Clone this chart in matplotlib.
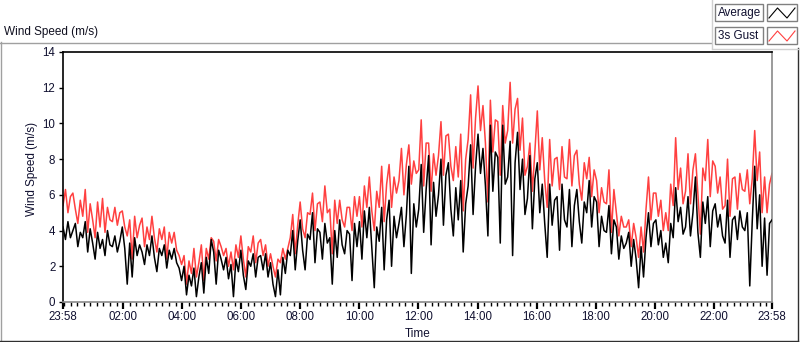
import numpy as np
import matplotlib
matplotlib.use('Agg')
import matplotlib.pyplot as plt
from matplotlib.patches import Rectangle

# ---------------- data (m/s), 24 h from 23:58 to 23:58 ----------------
avg = [
    4.2, 3.5, 4.5, 3.6,  4.0, 4.4, 3.1, 3.9,  3.6, 4.5, 2.8, 4.1,  3.3, 2.4, 3.9, 3.0,
    3.5, 2.6, 4.0, 3.2,  3.1, 3.7, 2.8, 3.4,  4.2, 3.0, 1.0, 3.3,  1.4, 3.6, 2.6, 3.2,
    2.8, 2.1, 3.2, 2.6,  3.7, 2.5, 1.7, 3.0,  2.6, 3.2, 1.9, 2.9,  2.4, 3.0, 2.2, 1.9,
    1.2, 2.0, 0.4, 1.5,  0.9, 1.9, 0.3, 1.4,  2.2, 0.5, 2.5, 1.6,  3.5, 2.8, 1.0, 2.9,
    2.4, 1.8, 2.5, 1.3,  2.1, 0.3, 2.4, 1.7,  2.9, 1.5, 0.7, 2.3,  2.0, 2.7, 1.4, 2.5,
    2.6, 1.8, 2.7, 1.4,  2.2, 1.0, 0.3, 1.8,  0.4, 2.5, 1.6, 2.9,  2.6, 4.0, 1.8, 3.4,
    4.6, 2.9, 1.8, 3.8,  3.5, 5.0, 2.2, 4.1,  3.9, 2.4, 4.4, 3.3,  3.6, 1.0, 4.0, 2.5,
    4.6, 3.2, 2.7, 4.0,  3.8, 1.2, 4.4, 3.1,  4.5, 2.4, 5.1, 3.6,  5.3, 3.0, 0.8, 4.2,
    3.4, 5.3, 1.8, 4.6,  5.7, 2.0, 4.8, 3.6,  4.4, 5.3, 3.1, 4.9,  7.6, 1.6, 5.5, 4.2,
    5.2, 7.7, 3.9, 6.3,  8.2, 3.2, 6.7, 4.8,  6.0, 8.0, 4.3, 7.1,  7.8, 5.2, 3.7, 6.4,
    4.6, 6.8, 2.8, 5.5,  6.5, 8.8, 4.9, 7.6,  9.4, 7.2, 8.6, 6.5,  3.7, 9.9, 6.2, 8.4,
    8.1, 3.3, 9.9, 6.6,  7.0, 9.0, 2.6, 7.8,  9.5, 6.3, 8.0, 4.9,  5.8, 8.2, 4.1, 6.9,
    7.8, 5.0, 6.6, 4.4,  2.5, 6.6, 4.3, 5.7,  5.9, 2.9, 6.6, 4.6,  4.2, 6.3, 3.1, 5.4,
    6.3, 4.5, 3.3, 5.6,  5.0, 6.8, 4.2, 5.9,  5.6, 3.1, 4.8, 4.0,  3.9, 5.4, 2.7, 4.6,
    4.2, 2.4, 3.7, 3.0,  3.3, 3.9, 2.0, 3.5,  2.4, 0.8, 3.1, 1.4,  3.6, 5.0, 3.1, 4.4,
    4.6, 3.2, 4.0, 2.5,  3.3, 2.2, 4.4, 3.6,  6.4, 4.5, 5.3, 3.8,  4.2, 5.9, 3.7, 5.0,
    7.0, 3.9, 2.5, 5.6,  4.4, 5.9, 3.1, 5.1,  5.5, 4.2, 4.9, 3.7,  3.3, 5.7, 2.5, 4.6,
    4.8, 3.5, 5.1, 4.2,  4.0, 5.0, 0.9, 4.5,  7.6, 4.1, 6.0, 2.0,  4.7, 1.5, 4.4, 4.6,
]
gust = [
    5.4, 6.3, 5.0, 5.9,  6.1, 5.2, 4.4, 5.7,  4.8, 6.3, 3.9, 5.5,  4.6, 3.6, 5.6, 4.2,
    5.8, 3.9, 5.3, 4.6,  4.5, 5.3, 4.3, 5.0,  5.1, 4.2, 3.7, 4.6,  2.4, 4.8, 3.6, 4.3,
    4.7, 3.1, 4.2, 3.5,  4.8, 3.6, 2.8, 4.1,  3.5, 4.2, 2.4, 3.9,  3.3, 3.9, 2.9, 2.6,
    2.1, 2.6, 1.0, 2.3,  1.6, 3.0, 1.4, 2.2,  3.2, 1.2, 3.0, 2.4,  3.6, 3.4, 2.3, 3.5,
    3.1, 2.6, 3.0, 2.0,  2.8, 1.8, 3.2, 2.5,  3.7, 2.4, 1.4, 3.1,  2.8, 3.7, 2.2, 3.3,
    3.5, 2.6, 3.2, 2.0,  2.7, 2.0, 1.4, 2.4,  2.2, 3.0, 2.4, 3.0,  3.6, 4.9, 2.7, 4.3,
    5.6, 4.1, 3.6, 5.0,  4.9, 6.1, 4.0, 5.5,  5.6, 4.5, 6.5, 5.0,  5.2, 2.7, 5.7, 4.4,
    5.7, 4.6, 4.2, 5.3,  5.3, 4.0, 5.9, 4.8,  5.9, 4.2, 6.5, 5.3,  7.0, 5.1, 4.0, 6.2,
    5.3, 7.6, 4.5, 6.6,  7.7, 5.3, 7.0, 6.1,  6.8, 8.6, 6.0, 7.7,  8.8, 6.6, 7.9, 7.2,
    7.4, 10.2, 6.5, 8.9, 8.9, 6.2, 8.3, 7.1,  8.2, 10.1, 7.1, 9.3, 9.4, 7.6, 6.8, 8.7,
    7.0, 9.4, 5.1, 8.0,  9.1, 11.6, 7.5, 10.3, 12.1, 9.6, 11.0, 8.9, 5.6, 11.3, 8.4, 10.2,
    10.1, 7.1, 11.0, 8.9, 9.6, 12.3, 8.9, 10.8, 11.4, 8.5, 10.3, 7.1, 7.6, 8.9, 6.2, 8.4,
    10.7, 7.4, 9.2, 6.8, 5.3, 9.1, 6.5, 8.0,  8.1, 6.3, 8.7, 7.0,  6.9, 9.1, 6.5, 8.2,
    8.5, 6.6, 5.7, 7.8,  6.9, 8.1, 5.9, 7.4,  6.8, 5.0, 6.4, 5.6,  5.5, 7.4, 3.9, 6.3,
    5.0, 3.7, 4.8, 4.2,  4.2, 4.6, 3.1, 4.4,  3.6, 2.5, 4.2, 2.8,  5.2, 7.0, 4.6, 6.1,
    6.1, 4.8, 5.7, 4.0,  5.0, 4.0, 6.6, 5.4,  9.2, 6.3, 7.5, 5.5,  6.2, 8.3, 5.5, 7.4,
    8.3, 6.0, 3.8, 7.5,  6.8, 9.1, 5.9, 7.9,  7.6, 6.1, 7.0, 5.2,  5.4, 8.0, 4.8, 6.9,
    7.0, 5.2, 7.2, 6.3,  6.2, 7.4, 5.5, 6.9,  9.6, 6.8, 8.4, 5.0,  7.0, 5.0, 6.6, 7.2,
]
x_tick_labels = ['23:58', '02:00', '04:00', '06:00', '08:00', '10:00', '12:00',
                 '14:00', '16:00', '18:00', '20:00', '22:00', '23:58']
y_ticks = [0, 2, 4, 6, 8, 10, 12, 14]
series_names = ['Average', '3s Gust']
series_colors = ['black', '#ff4040']

# ---------------- helpers ----------------
START = 23 * 60 + 58
SPAN = 24 * 60


def label_to_min(lbl, last):
    h, m = map(int, lbl.split(':'))
    return SPAN if last else (h * 60 + m - START) % SPAN


major_pos = [label_to_min(l, i == len(x_tick_labels) - 1) for i, l in enumerate(x_tick_labels)]
minor_step = (major_pos[2] - major_pos[1]) / 9.0
minor_pos = np.arange(major_pos[1] % minor_step, SPAN, minor_step)

plt.rcParams['font.family'] = ['Liberation Sans', 'DejaVu Sans']
W, H = 800, 342
fig = plt.figure(figsize=(W / 100, H / 100), dpi=100)
fig.patch.set_facecolor('white')

# background overlay (frame + legend), pixel coordinates
bg = fig.add_axes([0, 0, 1, 1], zorder=-1)
bg.set_xlim(0, W)
bg.set_ylim(H, 0)
bg.axis('off')
light = '#a0a0a0'
bg.plot([0, 711], [42.5, 42.5], color=light, lw=1)
bg.plot([0.5, 0.5], [42, 341], color=light, lw=1)
bg.plot([0, 798], [340.5, 340.5], color='#303030', lw=1)
bg.plot([797.5, 797.5], [48, 341], color='#303030', lw=1)
bg.plot([711.5, 711.5], [0, 48], color='#d0d0d0', lw=1)
bg.plot([711.5, 799], [48.5, 48.5], color='#d0d0d0', lw=1)
bg.text(4, 32.5, 'Wind Speed (m/s)', fontsize=8.5, ha='left', va='center', color='#101020')

for i, (name, col) in enumerate(zip(series_names, series_colors)):
    y0 = 4 + 23 * i
    bg.add_patch(Rectangle((715, y0), 48, 17, facecolor='white', edgecolor='#808080', lw=1))
    bg.add_patch(Rectangle((767, y0), 30, 17, facecolor='white', edgecolor='#808080', lw=1))
    bg.text(718, y0 + 8.7, name, fontsize=8.4, ha='left', va='center', color='#101030')
    bg.plot([769, 777.5, 787, 795], [y0 + 14, y0 + 4, y0 + 14, y0 + 4], color=col, lw=0.8)

# main plot
ax = fig.add_axes([63 / W, 40 / H, 709 / W, 250 / H])
t = np.linspace(0, SPAN, len(avg))
ax.plot(t, gust, color=series_colors[1], lw=1.1, zorder=2)
ax.plot(t, avg, color=series_colors[0], lw=1.1, zorder=3)
ax.set_xlim(0, SPAN)
ax.set_ylim(0, 14)
ax.set_yticks(y_ticks)
ax.set_yticklabels([str(v) for v in y_ticks])
ax.set_xticks(major_pos)
ax.set_xticklabels(x_tick_labels)
ax.set_xticks(minor_pos, minor=True)
ax.tick_params(axis='y', direction='out', length=3, width=1, pad=2.5,
               labelsize=8.3, labelcolor='#101030', color='black')
ax.tick_params(axis='x', which='major', direction='out', length=5, width=1.6, pad=1.5,
               labelsize=8.3, labelcolor='#101030', color='black')
ax.tick_params(axis='x', which='minor', direction='out', length=3, width=1, color='black')
for s in ('top', 'left'):
    ax.spines[s].set_color('black')
    ax.spines[s].set_linewidth(1.2)
for s in ('bottom', 'right'):
    ax.spines[s].set_color('#8a8a8a')
    ax.spines[s].set_linewidth(1.2)

fig.text(32 / W, 1 - 169 / H, 'Wind Speed (m/s)', rotation=90, fontsize=8.5,
         ha='center', va='center', color='#101030')
fig.text(417.5 / W, 1 - 334 / H, 'Time', fontsize=8.5, ha='center', va='center', color='#101030')

fig.savefig('out.png', dpi=100, facecolor='white')
